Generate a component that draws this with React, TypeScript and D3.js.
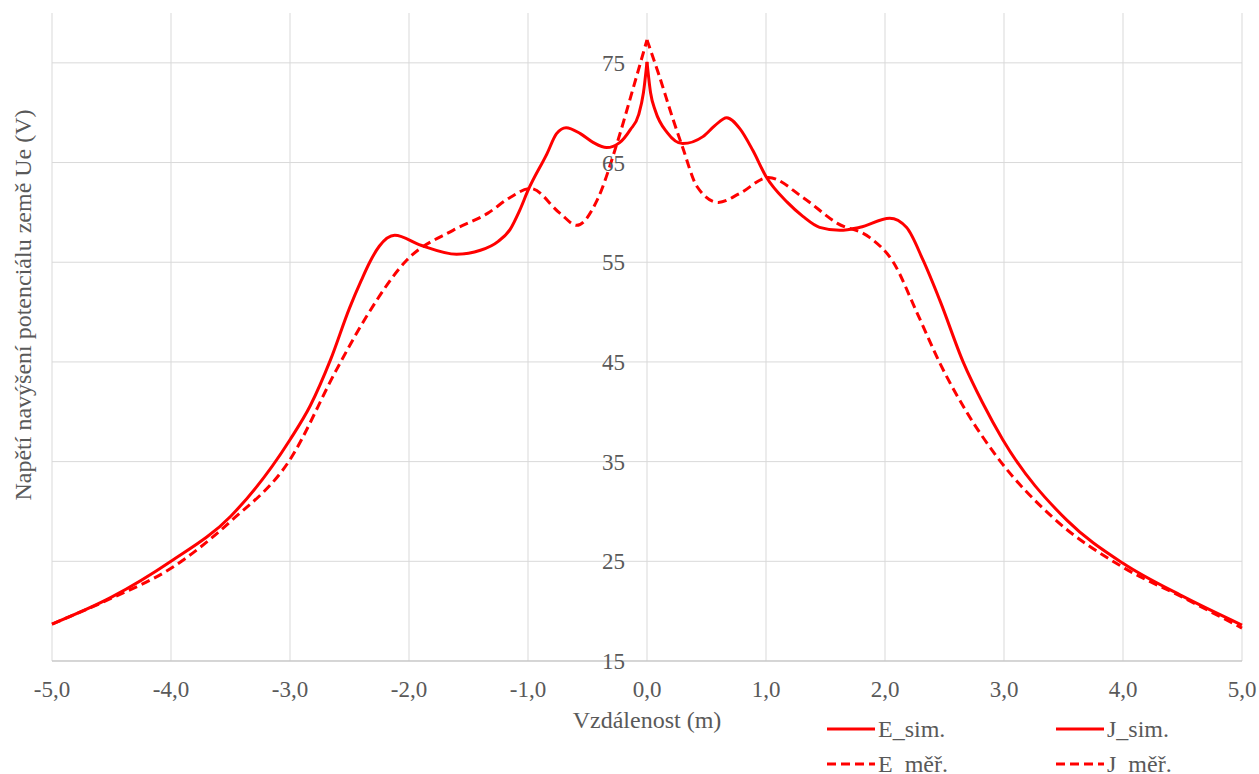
import React from "react";
import * as d3 from "d3";

// ---- data ----
const eSimX = [-5, -4.5, -4, -3.5, -3, -2.83, -2.66, -2.5, -2.4, -2.33, -2.25, -2.12, -1.9, -1.6, -1.4, -1.25, -1.15, -1.07, -1.0, -0.84, -0.76, -0.68, -0.56, -0.45, -0.34, -0.23, -0.14, -0.07, -0.03, 0];
const eSimY = [18.7, 21.4, 25.0, 29.5, 37.2, 40.6, 45.2, 50.4, 53.2, 55.0, 56.6, 57.7, 56.7, 55.8, 56.2, 57.1, 58.3, 60.2, 62.2, 65.9, 67.9, 68.5, 67.9, 67.0, 66.5, 67.0, 68.3, 69.8, 72.0, 75.1];

const eMerX = [-5, -4.5, -4, -3.5, -3, -2.61, -2.36, -2.02, -1.63, -1.34, -1.15, -0.98, -0.73, -0.59, -0.42, -0.25, -0.12, 0];
const eMerY = [18.7, 21.3, 24.3, 29.0, 35.2, 44.2, 49.5, 55.2, 58.2, 59.9, 61.5, 62.4, 59.9, 58.7, 61.2, 67.0, 72.3, 77.3];

const jSimX = [0, 0.03, 0.07, 0.17, 0.3, 0.47, 0.57, 0.67, 0.78, 0.89, 1.0, 1.18, 1.31, 1.45, 1.62, 1.79, 2.04, 2.18, 2.32, 2.46, 2.66, 2.82, 2.99, 3.53, 4.0, 4.5, 5.0];
const jSimY = [75.1, 72.0, 70.2, 68.0, 66.9, 67.6, 68.7, 69.5, 68.4, 66.2, 63.6, 61.0, 59.6, 58.5, 58.2, 58.5, 59.4, 58.5, 55.2, 51.2, 44.9, 40.9, 37.2, 29.1, 24.8, 21.5, 18.6];

const jMerX = [0, 0.1, 0.22, 0.3, 0.42, 0.6, 0.78, 1.02, 1.31, 1.6, 1.87, 2.07, 2.27, 2.46, 2.69, 2.94, 3.41, 4.0, 4.5, 5.0];
const jMerY = [77.3, 73.8, 69.3, 66.5, 62.6, 61.0, 61.9, 63.5, 61.5, 58.9, 57.5, 55.0, 49.9, 44.9, 39.9, 35.5, 29.4, 24.4, 21.4, 18.3];

const xTicks = [-5, -4, -3, -2, -1, 0, 1, 2, 3, 4, 5];
const yTicks = [15, 25, 35, 45, 55, 65, 75];

const seriesNames = ["E_sim.", "J_sim.", "E_měř.", "J_měř."];

const RED = "#FF0000";
const TXT = "#595959";
const FONT = "Liberation Serif, Times New Roman, serif";
const tStyle = { fontFamily: FONT };

export default function App() {
  const W = 1259, H = 774;
  const x = d3.scaleLinear().domain([-5, 5]).range([52, 1242]);
  const y = d3.scaleLinear().domain([15, 80]).range([661, 13]);
  const line = d3
    .line<[number, number]>()
    .x((d) => x(d[0]))
    .y((d) => y(d[1]))
    .curve(d3.curveMonotoneX);

  const pts = (xs: number[], ys: number[]) => xs.map((v, i) => [v, ys[i]] as [number, number]);
  const series = [
    { name: seriesNames[0], d: pts(eSimX, eSimY), dash: undefined },
    { name: seriesNames[1], d: pts(jSimX, jSimY), dash: undefined },
    { name: seriesNames[2], d: pts(eMerX, eMerY), dash: "9,5" },
    { name: seriesNames[3], d: pts(jMerX, jMerY), dash: "9,5" },
  ];

  const fmt = (v: number) => v.toFixed(1).replace(".", ",");

  const legendPos = [
    { lx: 827, ly: 729 },
    { lx: 1056, ly: 729 },
    { lx: 827, ly: 764 },
    { lx: 1056, ly: 764 },
  ];

  return (
    <svg
      width={W}
      height={H}
      style={{ position: "absolute", left: 0, top: 0, background: "#fff" }}
    >
      <rect width={W} height={H} fill="#fff" />
      {/* gridlines */}
      {yTicks.map((t) => (
        <line key={"gy" + t} x1={x(-5)} x2={x(5)} y1={y(t)} y2={y(t)} stroke="#d9d9d9" strokeWidth={1} />
      ))}
      {xTicks.map((t) => (
        <line key={"gx" + t} x1={x(t)} x2={x(t)} y1={y(80)} y2={y(15)} stroke="#d9d9d9" strokeWidth={1} />
      ))}
      <line x1={x(-5)} x2={x(5)} y1={y(15)} y2={y(15)} stroke="#bfbfbf" strokeWidth={1} />

      {/* series */}
      {series.map((s) => (
        <path
          key={s.name}
          d={line(s.d) || ""}
          fill="none"
          stroke={RED}
          strokeWidth={3}
          strokeDasharray={s.dash}
          strokeLinejoin="round"
        />
      ))}

      {/* y tick labels */}
      {yTicks.map((t) => (
        <text key={"yl" + t} x={x(0) - 22} y={y(t)} dy="0.35em" textAnchor="end" fontSize={23} fill={TXT} style={tStyle}>
          {t}
        </text>
      ))}
      {/* x tick labels */}
      {xTicks.map((t) => (
        <text key={"xl" + t} x={x(t)} y={697} textAnchor="middle" fontSize={23} fill={TXT} style={tStyle}>
          {fmt(t)}
        </text>
      ))}

      {/* axis titles */}
      <text x={647} y={728} textAnchor="middle" fontSize={24} fill={TXT} style={tStyle}>
        Vzdálenost (m)
      </text>
      <text transform="translate(31,305) rotate(-90)" textAnchor="middle" fontSize={24} fill={TXT} style={tStyle}>
        Napětí navýšení potenciálu země Ue (V)
      </text>

      {/* legend */}
      {series.map((s, i) => (
        <g key={"lg" + s.name}>
          <line
            x1={legendPos[i].lx}
            x2={legendPos[i].lx + 48}
            y1={legendPos[i].ly}
            y2={legendPos[i].ly}
            stroke={RED}
            strokeWidth={3}
            strokeDasharray={s.dash}
          />
          <text x={legendPos[i].lx + 51} y={legendPos[i].ly + 8} fontSize={24} fill={TXT} style={tStyle}>
            {s.name}
          </text>
        </g>
      ))}
    </svg>
  );
}
